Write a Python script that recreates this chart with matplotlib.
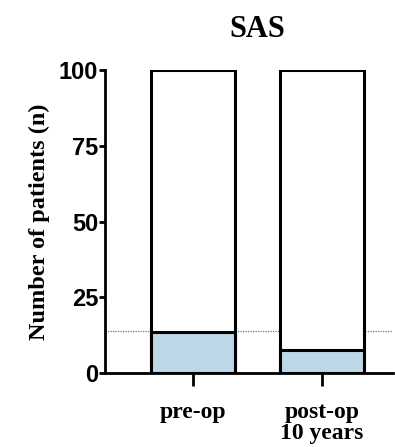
import numpy as np
from matplotlib import pyplot as plt

categories = ["pre-op", "post-op\n10 years"]
total = [100, 100]
sas_yes = [13.5, 7.5]
reference_line = 14
yticks = [0, 25, 50, 75, 100]

fig = plt.figure(figsize=(3.95, 4.47), dpi=100)
ax = fig.add_axes([105 / 395, 1 - 373 / 447, (393 - 105) / 395, (373 - 70) / 447])

x = np.arange(len(categories))
width = 0.65
ax.bar(x, total, width, color="white", edgecolor="black", linewidth=2.2, zorder=2)
ax.bar(x, sas_yes, width, color="#bdd7e7", edgecolor="black", linewidth=2.2, zorder=3)
ax.axhline(reference_line, color="#777777", linestyle=(0, (1, 1)), linewidth=0.9, zorder=1)

ax.set_xlim(-0.68, 1.55)
ax.set_ylim(0, 100)
ax.set_yticks(yticks)
ax.set_yticklabels([str(t) for t in yticks], family="Liberation Sans",
                   fontweight="bold", fontsize=17)
ax.set_xticks(x)
ax.set_xticklabels(categories, family="Liberation Serif", fontweight="bold",
                   fontsize=17, linespacing=1.0)
ax.tick_params(axis="both", width=2, direction="out")
ax.tick_params(axis="x", length=9, pad=12)
ax.tick_params(axis="y", length=4, pad=1)

for side in ["top", "right"]:
    ax.spines[side].set_visible(False)
for side in ["left", "bottom"]:
    ax.spines[side].set_linewidth(2)

ax.set_ylabel("Number of patients (n)", family="Liberation Serif",
              fontweight="bold", fontsize=17.5, labelpad=6)
ax.set_title("SAS", family="Liberation Serif", fontweight="bold",
             fontsize=22, x=0.53, pad=24)

fig.savefig("out.png", dpi=100)
